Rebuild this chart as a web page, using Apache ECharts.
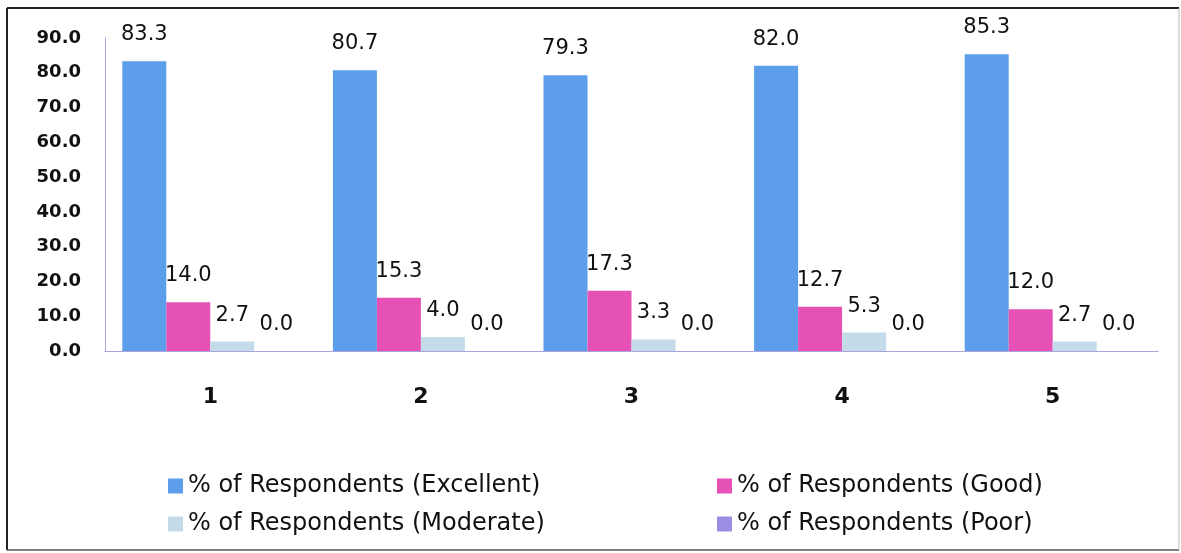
<!DOCTYPE html>
<html>
<head>
<meta charset="utf-8">
<script src="https://cdn.jsdelivr.net/npm/echarts@6/dist/echarts.min.js"></script>
<style>
html,body{margin:0;padding:0;background:#fff;}
#chart{width:1181px;height:553px;}
</style>
</head>
<body>
<div id="chart"></div>
<script>
const categories = ['1', '2', '3', '4', '5'];
const seriesNames = [
  '% of Respondents (Excellent)',
  '% of Respondents (Good)',
  '% of Respondents (Moderate)',
  '% of Respondents (Poor)'
];
const excellent = [83.3, 80.7, 79.3, 82.0, 85.3];
const good = [14.0, 15.3, 17.3, 12.7, 12.0];
const moderate = [2.7, 4.0, 3.3, 5.3, 2.7];
const poor = [0.0, 0.0, 0.0, 0.0, 0.0];
const colors = ['#5d9eea', '#e651b5', '#c4dce9', '#9b8ee3'];

const chart = echarts.init(document.getElementById('chart'));
const values = [excellent, good, moderate, poor];
const legendPos = [
  {left: 163, top: 469},
  {left: 712, top: 469},
  {left: 163, top: 507},
  {left: 712, top: 507}
];
chart.setOption({
  animation: false,
  backgroundColor: '#fff',
  grid: {left: 105, right: 23, top: 38, bottom: 202, containLabel: false},
  legend: seriesNames.map((n, i) => ({
    data: [n],
    left: legendPos[i].left,
    top: legendPos[i].top,
    icon: 'rect',
    itemWidth: 15,
    itemHeight: 15,
    itemGap: 4,
    textStyle: {fontFamily: 'DejaVu Sans', fontSize: 24, color: '#111', padding: [0, 0, 0, 0]}
  })),
  xAxis: {
    type: 'category',
    data: categories,
    axisLine: {lineStyle: {color: '#a8a4dc', width: 1}},
    axisTick: {show: false},
    axisLabel: {fontFamily: 'DejaVu Sans', fontWeight: 'bold', fontSize: 22, color: '#111', margin: 35}
  },
  yAxis: {
    type: 'value',
    min: 0, max: 90, interval: 10,
    axisLine: {show: true, lineStyle: {color: '#a8a4dc', width: 1}},
    axisTick: {show: false},
    splitLine: {show: false},
    axisLabel: {
      fontFamily: 'DejaVu Sans', fontWeight: 'bold', fontSize: 18, color: '#111', margin: 24,
      formatter: v => v.toFixed(1)
    }
  },
  series: seriesNames.map((n, i) => ({
    name: n,
    type: 'bar',
    data: values[i],
    barWidth: 44,
    barGap: '0%',
    itemStyle: {color: colors[i]},
    label: {
      show: true,
      position: 'top',
      distance: 16,
      fontFamily: 'DejaVu Sans',
      fontSize: 21,
      color: '#111',
      formatter: p => p.value.toFixed(1)
    }
  })),
  graphic: [
    {type: 'line', shape: {x1: 7, y1: 8, x2: 1179, y2: 8}, style: {stroke: '#222', lineWidth: 2}},
    {type: 'line', shape: {x1: 7, y1: 8, x2: 7, y2: 550}, style: {stroke: '#222', lineWidth: 2}},
    {type: 'line', shape: {x1: 7, y1: 550, x2: 1179, y2: 550}, style: {stroke: '#555', lineWidth: 1.5}},
    {type: 'line', shape: {x1: 1179, y1: 8, x2: 1179, y2: 550}, style: {stroke: '#bbb', lineWidth: 1}}
  ]
});
</script>
</body>
</html>
